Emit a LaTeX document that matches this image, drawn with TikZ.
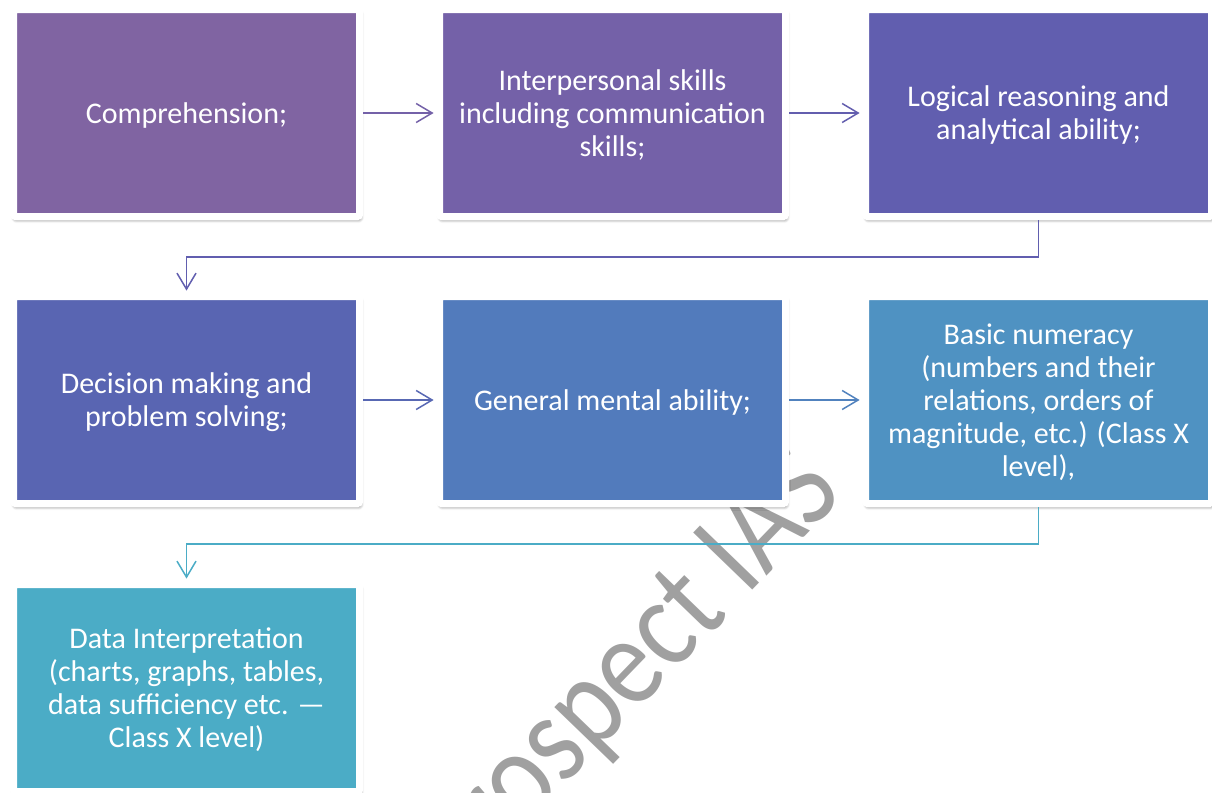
\documentclass[tikz,border=0pt]{standalone}
\usepackage{fontspec}
\usepackage{graphicx}
\setmainfont{Carlito}
\usetikzlibrary{arrows.meta,shadows.blur}
\definecolor{cA}{HTML}{8064A2}
\definecolor{cB}{HTML}{7461A8}
\definecolor{cC}{HTML}{615EAF}
\definecolor{cD}{HTML}{5965B2}
\definecolor{cE}{HTML}{527BBC}
\definecolor{cF}{HTML}{4F92C2}
\definecolor{cG}{HTML}{4BACC6}
\definecolor{wm}{HTML}{A0A0A0}
\tikzset{
  stepbox/.style={draw=white, line width=3.5pt, minimum width=173pt, minimum height=103.5pt,
    inner sep=0pt, rounded corners=1pt,
    blur shadow={shadow xshift=0.5pt, shadow yshift=-1.5pt, shadow blur steps=6, shadow blur radius=1.8pt, shadow opacity=60}},
  steptext/.style={text=white, align=center, inner sep=0pt, yshift=-1pt,
    font=\fontsize{15pt}{16.5pt}\selectfont},
  flow/.style={line width=0.75pt, -{Straight Barb[length=8pt,width=9.5pt,line width=0.75pt]}, shorten >=1.2pt},
  watermark/.style={text=wm, font=\fontsize{64pt}{70pt}\selectfont, rotate=46, inner sep=0pt, anchor=base west}
}
\begin{document}
\begin{tikzpicture}[x=0.5pt,y=-0.5pt]
\useasboundingbox (0,0) rectangle (1212,793);
\clip (0,0) rectangle (1212,793);
\node[watermark] (wmark) at (458,896) {\scalebox{0.86}[1]{Prospect IAS}};
\node[stepbox, fill=cA, label={[steptext]center:Comprehension;}] (b1) at (186.5,113) {};
\node[stepbox, fill=cB, label={[steptext]center:{Interpersonal skills\\including communication\\skills;}}] (b2) at (612.5,113) {};
\node[stepbox, fill=cC, label={[steptext]center:{Logical reasoning and\\analytical ability;}}] (b3) at (1038.5,113) {};
\node[stepbox, fill=cD, label={[steptext]center:{Decision making and\\problem solving;}}] (b4) at (186.5,400) {};
\node[stepbox, fill=cE, label={[steptext]center:{General mental ability;}}] (b5) at (612.5,400) {};
\node[stepbox, fill=cF, label={[steptext]center:{Basic numeracy\\(numbers and their\\relations, orders of\\magnitude, etc.) (Class X\\level),}}] (b6) at (1038.5,400) {};
\node[stepbox, fill=cG, label={[steptext]center:{Data Interpretation\\(charts, graphs, tables,\\data sufficiency etc. —\\Class X level)}}] (b7) at (186.5,688) {};
\draw[flow, draw=cB] (b1.east) -- (b2.west);
\draw[flow, draw=cC!90!cB] (b2.east) -- (b3.west);
\draw[flow, draw=cC] (b3.south) -- ++(0,37) -| (b4.north);
\draw[flow, draw=cD!85!cE] (b4.east) -- (b5.west);
\draw[flow, draw=cE!70!cF] (b5.east) -- (b6.west);
\draw[flow, draw=cG] (b6.south) -- ++(0,37) -| (b7.north);
\end{tikzpicture}
\end{document}
